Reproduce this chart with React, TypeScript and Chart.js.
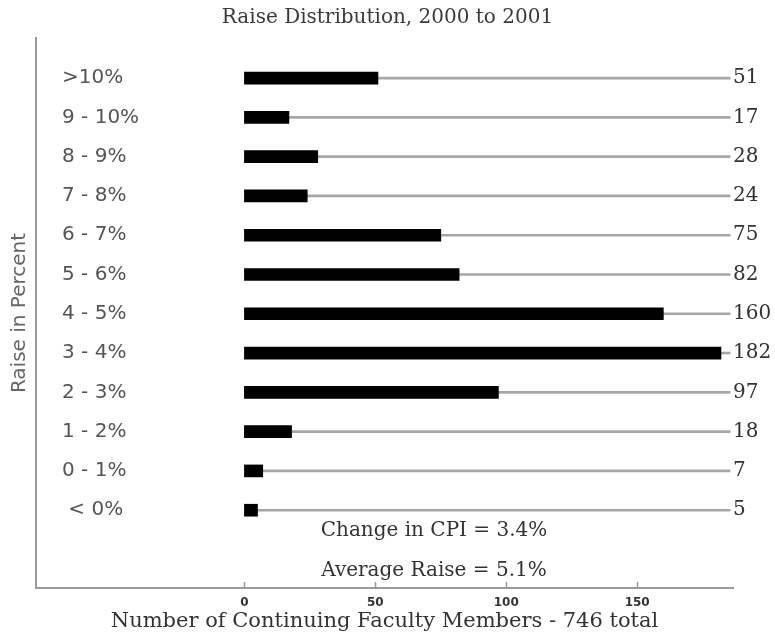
import { useEffect, useRef } from 'react';
import { Chart, registerables } from 'chart.js';

Chart.register(...registerables);

const categories = ['>10%', '9 - 10%', '8 - 9%', '7 - 8%', '6 - 7%', '5 - 6%', '4 - 5%', '3 - 4%', '2 - 3%', '1 - 2%', '0 - 1%', ' < 0%'];
const counts = [51, 17, 28, 24, 75, 82, 160, 182, 97, 18, 7, 5];
const xTickValues = [0, 50, 100, 150];
const lineEnd = 185.5;
const xMin = -79.6;
const xMax = 186.6;
const yMin = -1.02;
const yMax = 12.98;
const chartTitle = 'Raise Distribution, 2000 to 2001';
const xTitle = 'Number of Continuing Faculty Members - 746 total';
const yTitle = 'Raise in Percent';
const notes = ['Change in CPI = 3.4%', 'Average Raise = 5.1%'];

const SERIF = "'DejaVu Serif'";
const SANS = "'DejaVu Sans'";

const extrasPlugin = {
  id: 'extras',
  afterDraw(chart: any) {
    const { ctx, chartArea } = chart;
    const xs = chart.scales.x;
    ctx.save();
    ctx.strokeStyle = '#999';
    ctx.lineWidth = 1.5;
    xTickValues.forEach((v) => {
      const px = Math.round(xs.getPixelForValue(v)) + 0.5;
      ctx.beginPath();
      ctx.moveTo(px, chartArea.bottom - 6);
      ctx.lineTo(px, chartArea.bottom);
      ctx.stroke();
    });
    ctx.fillStyle = '#333';
    ctx.font = `20px ${SERIF}`;
    ctx.textAlign = 'center';
    ctx.textBaseline = 'middle';
    const cx = chartArea.left + 398;
    ctx.fillText(notes[0], cx, chartArea.bottom - 57);
    ctx.fillText(notes[1], cx, chartArea.bottom - 17);
    ctx.restore();
  },
};

export default function App() {
  const ref = useRef<HTMLCanvasElement | null>(null);

  useEffect(() => {
    if (!ref.current) return;
    const idxTicks = (scale: any) => {
      scale.ticks = categories.map((_, i) => ({ value: i }));
    };
    const chart = new Chart(ref.current, {
      type: 'bar',
      data: {
        datasets: [
          {
            label: 'count',
            data: counts.map((v, i) => ({ x: v, y: i })),
            backgroundColor: '#000',
            barThickness: 12,
            stack: 'a',
            order: 0,
          } as any,
          {
            label: 'line',
            data: counts.map((v, i) => ({ x: [v, lineEnd], y: i })),
            backgroundColor: '#a6a6a6',
            barThickness: 2,
            stack: 'a',
            order: 1,
          } as any,
        ],
      },
      options: {
        indexAxis: 'y',
        responsive: false,
        animation: false,
        layout: { padding: 0 },
        plugins: {
          legend: { display: false },
          tooltip: { enabled: false },
          title: {
            display: true,
            text: chartTitle,
            color: '#3a3a3a',
            font: { family: SERIF, size: 20, weight: 'normal', lineHeight: 1.2 },
            padding: { top: 6, bottom: 8 },
          },
        },
        scales: {
          x: {
            type: 'linear',
            min: xMin,
            max: xMax,
            stacked: false,
            afterBuildTicks: (scale: any) => {
              scale.ticks = xTickValues.map((v) => ({ value: v }));
            },
            afterFit: (scale: any) => {
              scale.height = 49;
            },
            grid: { display: false, drawTicks: false },
            border: { display: true, color: '#999', width: 2 },
            ticks: {
              padding: 8,
              color: '#333',
              font: { family: SANS, size: 12, weight: 'bold' },
              callback: (v: any) => String(v),
            },
            title: {
              display: true,
              text: xTitle,
              color: '#333',
              font: { family: SERIF, size: 21 },
              padding: { top: 0, bottom: 3 },
            },
          },
          y: {
            type: 'linear',
            position: 'left',
            min: yMin,
            max: yMax,
            reverse: true,
            offset: false,
            stacked: true,
            afterBuildTicks: idxTicks,
            afterFit: (scale: any) => {
              scale.width = 36;
            },
            grid: { display: false, drawTicks: false, offset: false },
            border: { display: true, color: '#999', width: 2 },
            ticks: {
              mirror: true,
              padding: 26,
              autoSkip: false,
              color: '#555',
              font: { family: SANS, size: 20 },
              callback: (v: any) => categories[Math.round(v)] ?? '',
            },
            title: {
              display: true,
              text: yTitle,
              color: '#666',
              font: { family: SANS, size: 20 },
              padding: { top: 8, bottom: 0 },
            },
          },
          y2: {
            type: 'linear',
            position: 'right',
            min: yMin,
            max: yMax,
            reverse: true,
            offset: false,
            afterBuildTicks: idxTicks,
            afterFit: (scale: any) => {
              scale.width = 42;
            },
            grid: { display: false, drawTicks: false, offset: false },
            border: { display: false },
            ticks: {
              padding: 0,
              autoSkip: false,
              color: '#333',
              font: { family: SERIF, size: 20 },
              callback: (v: any) => {
                const c = counts[Math.round(v)];
                return c === undefined ? '' : String(c);
              },
            },
          },
        },
      } as any,
      plugins: [extrasPlugin],
    });
    return () => chart.destroy();
  }, []);

  return (
    <div style={{ position: 'absolute', left: 0, top: 0, width: 775, height: 637, background: '#fff' }}>
      <canvas ref={ref} width={775} height={637} style={{ display: 'block' }} />
    </div>
  );
}
